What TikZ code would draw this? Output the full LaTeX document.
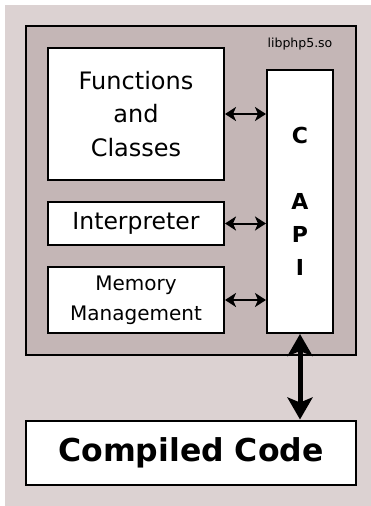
\documentclass[tikz,border=0pt]{standalone}
\usepackage{fontspec}
\setmainfont{DejaVu Sans}
\usetikzlibrary{arrows.meta}
\definecolor{outerbg}{RGB}{220,210,210}
\definecolor{innerbg}{RGB}{196,182,182}

\begin{document}
\begin{tikzpicture}[x=1pt,y=-1pt,line width=2pt]
        \tikzstyle{block}=[draw=black,fill=white,rectangle,inner sep=0pt,align=center]
        \tikzstyle{link}=[{Stealth[length=11pt,width=14pt,inset=3pt]}-{Stealth[length=11pt,width=14pt,inset=3pt]}]
        \tikzstyle{biglink}=[line width=5pt,{Stealth[length=22pt,width=25pt,inset=5pt]}-{Stealth[length=22pt,width=25pt,inset=5pt]}]

        \useasboundingbox (0,0) rectangle (371,506);
        \fill[outerbg] (5,5) rectangle (371,506);

        \node[block,fill=innerbg,minimum width=330pt,minimum height=329pt] (LIB) at (191,190.5) { };
        \node[font=\fontsize{12.5}{15}\selectfont] (SO) at (300,44) {libphp5.so};
        \node[block,minimum width=176pt,minimum height=132pt,font=\fontsize{24}{33.5}\selectfont]
              (FUN) at (136,114) {Functions\\and\\Classes};
        \node[block,minimum width=176pt,minimum height=43pt,font=\fontsize{23.5}{28}\selectfont]
              (INT) at (136,223.5) {Interpreter};
        \node[block,minimum width=176pt,minimum height=66pt,font=\fontsize{20}{30}\selectfont]
              (MEM) at (136,300) {Memory\\Management};
        \node[block,minimum width=66pt,minimum height=263pt,font=\bfseries\fontsize{22}{33}\selectfont]
              (API) at (300,201.5) {C\\ \\A\\P\\I}; % C API
        \node[block,minimum width=330pt,minimum height=64pt,font=\bfseries\fontsize{31.5}{36}\selectfont]
              (CODE) at (191,452.5) {Compiled Code};

        \path[link]
                  (FUN.east) edge (FUN.east -| API.west)
                  (INT.east) edge (INT.east -| API.west)
                  (MEM.east) edge (MEM.east -| API.west);
        \path[biglink]
                  (API.south) edge (API.south |- CODE.north);
\end{tikzpicture}
\end{document}
